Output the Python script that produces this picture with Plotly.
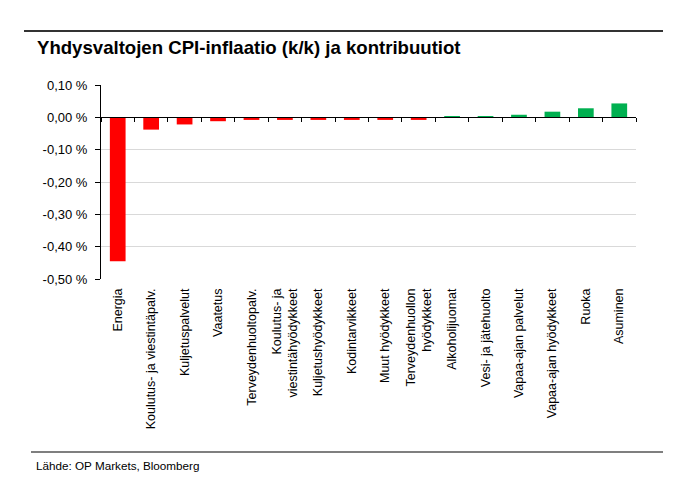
import plotly.graph_objects as go

categories = ["Energia", "Koulutus- ja viestintäpalv.", "Kuljetuspalvelut", "Vaatetus",
              "Terveydenhuoltopalv.", "Koulutus- ja<br>viestintähyödykkeet", "Kuljetushyödykkeet",
              "Kodintarvikkeet", "Muut hyödykkeet", "Terveydenhuollon<br>hyödykkeet",
              "Alkoholijuomat", "Vesi- ja jätehuolto", "Vapaa-ajan palvelut",
              "Vapaa-ajan hyödykkeet", "Ruoka", "Asuminen"]
values = [-0.445, -0.038, -0.022, -0.012, -0.008, -0.008, -0.008, -0.008, -0.008, -0.008,
          0.002, 0.002, 0.008, 0.0175, 0.028, 0.043]
ytick_vals = [0.1, 0.0, -0.1, -0.2, -0.3, -0.4, -0.5]
ytick_text = ["0,10 %", "0,00 %", "-0,10 %", "-0,20 %", "-0,30 %", "-0,40 %", "-0,50 %"]

RED = "#FF0000"
GREEN = "#00B050"
colors = [RED if v < 0 else GREEN for v in values]

ymin, ymax = min(ytick_vals), max(ytick_vals)
zero_pos = (0 - ymin) / (ymax - ymin)

fig = go.Figure()
fig.add_trace(go.Bar(x=categories, y=values, marker=dict(color=colors, line=dict(width=0)),
                     width=0.47, hoverinfo="x+y", showlegend=False))
fig.add_trace(go.Scatter(x=categories, y=[0] * len(categories), xaxis="x2", mode="markers",
                         marker=dict(opacity=0), showlegend=False, hoverinfo="skip"))

font_family = "Liberation Sans, Arial, sans-serif"
fig.update_layout(
    width=690, height=492,
    margin=dict(l=101, r=54, t=85, b=213),
    paper_bgcolor="white", plot_bgcolor="white",
    font=dict(family=font_family, color="black", size=11),
    xaxis=dict(type="category", tickangle=-90, ticks="", showline=False, showgrid=False,
               tickfont=dict(size=12.5, family=font_family), ticklabelstandoff=6,
               range=[-0.5, len(categories) - 0.5]),
    xaxis2=dict(type="category", overlaying="x", anchor="free", position=zero_pos,
                matches="x", showline=True, linecolor="black", linewidth=1,
                ticks="outside", tickson="boundaries", ticklen=4, tickcolor="black",
                showticklabels=False, showgrid=False),
    yaxis=dict(range=[ymin, ymax], tickvals=ytick_vals, ticktext=ytick_text,
               showline=True, linecolor="black", linewidth=1, ticks="outside", ticklen=5,
               tickcolor="black", showgrid=True, gridcolor="#D9D9D9", gridwidth=1,
               zeroline=False, tickfont=dict(size=13, family=font_family),
               ticklabelstandoff=5),
    bargap=0.5,
    shapes=[
        dict(type="line", xref="paper", yref="paper", x0=-77 / 535, x1=562 / 535,
             y0=1 + 54 / 194, y1=1 + 54 / 194, line=dict(color="#333333", width=2)),
        dict(type="line", xref="paper", yref="paper", x0=-70 / 535, x1=562 / 535,
             y0=-173 / 194, y1=-173 / 194, line=dict(color="#555555", width=1.5)),
    ],
    annotations=[
        dict(text="<b>Yhdysvaltojen CPI-inflaatio (k/k) ja kontribuutiot</b>", xref="paper",
             yref="paper", x=-66 / 535, y=1 + 38 / 194, xanchor="left", yanchor="middle",
             showarrow=False, font=dict(size=18.6, family=font_family, color="black")),
        dict(text="Lähde: OP Markets, Bloomberg", xref="paper", yref="paper",
             x=-67 / 535, y=-186 / 194, xanchor="left", yanchor="middle", showarrow=False,
             font=dict(size=11.7, family=font_family, color="black")),
    ],
)

fig.write_html("out.html")
